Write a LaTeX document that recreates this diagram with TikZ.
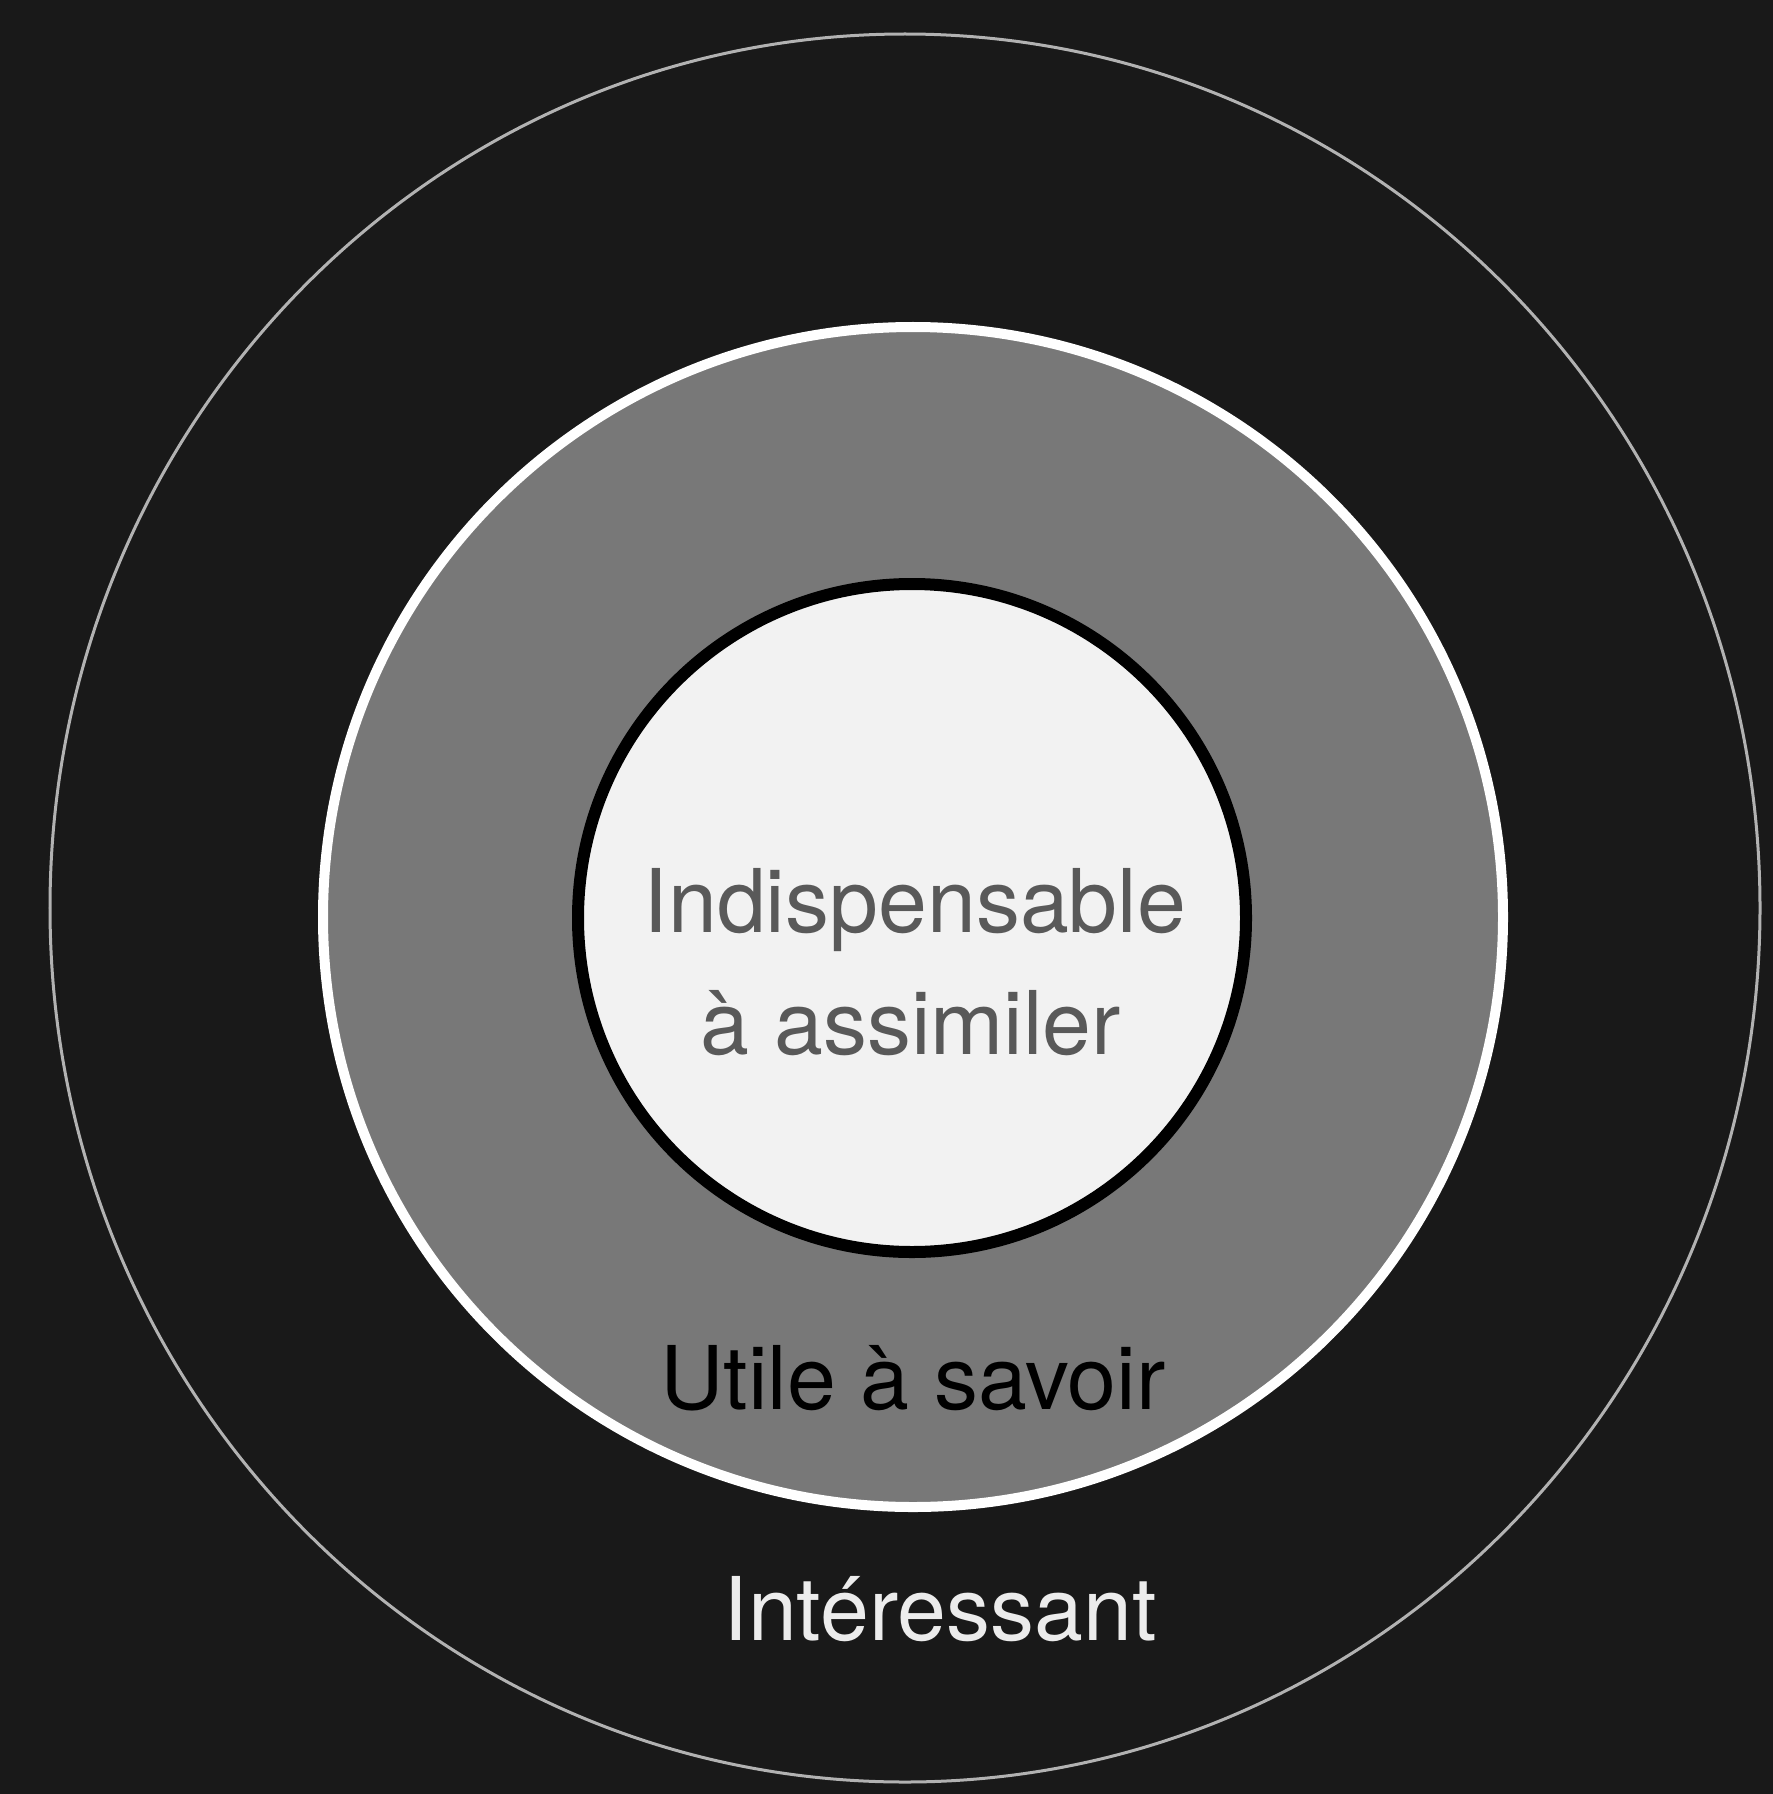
\documentclass[tikz,border=0pt]{standalone}
\usepackage{fontspec}
\setmainfont{TeX Gyre Heros}
\usepackage{xcolor}

\tikzset{
  lbl/.style={anchor=base, inner sep=0pt, font=\fontsize{25}{34}\selectfont}
}

\begin{document}
\begin{tikzpicture}[x=0.01cm,y=-0.01cm]
\fill[black!90] (0,0) rectangle (1773,1794);
\useasboundingbox (0,0) rectangle (1773,1794);
% outer ring
\draw[gray!60, line width=0.03cm] (905,908) ellipse [x radius=855, y radius=874];
% middle ring
\filldraw[fill=gray!75!black!85, draw=white, line width=0.1cm] (913,917) circle [radius=590];
% core
\filldraw[fill=black!5, draw=black, line width=0.12cm] (912,918) circle [radius=334];
\node[lbl, text=black!65] (core1) at (915,932) {Indispensable};
\node[lbl, text=black!65] (core2) at (911,1054) {à assimiler};
\node[lbl, text=black] (mid) at (913,1409) {Utile à savoir};
\node[lbl, text=white!85!gray] (out) at (940,1640) {Intéressant};
\end{tikzpicture}
\end{document}
